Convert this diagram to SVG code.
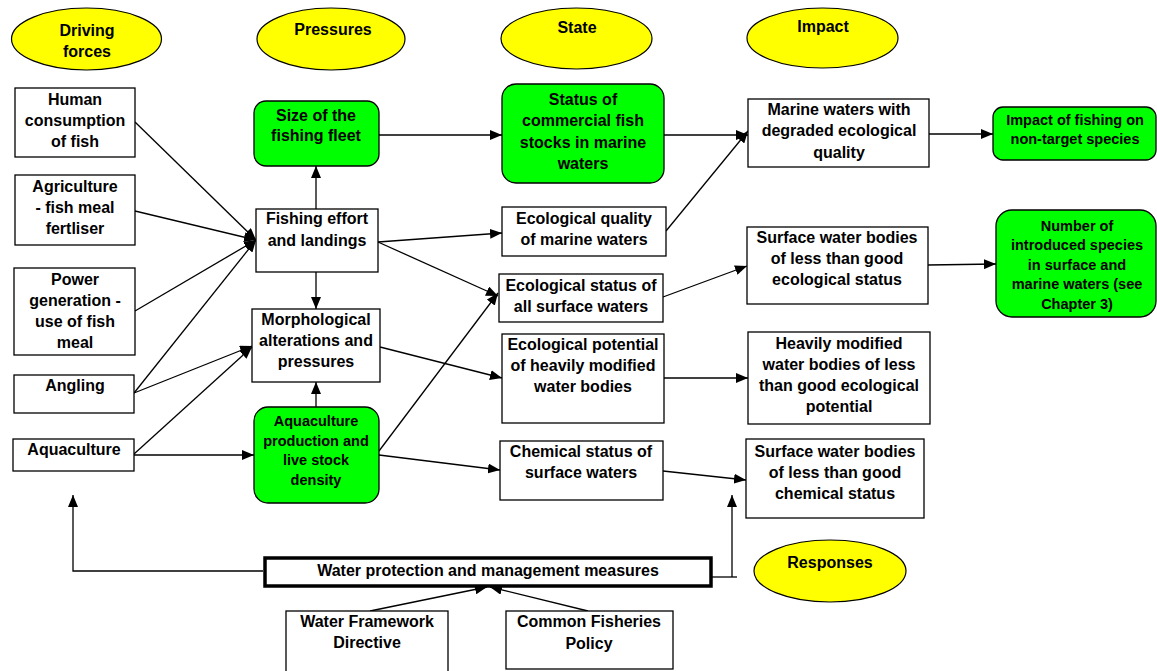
<svg xmlns="http://www.w3.org/2000/svg" width="1157" height="671" viewBox="0 0 1157 671">
<defs>
<style>
.t{font-family:"Liberation Sans",Arial,sans-serif;font-weight:bold;font-size:16px;fill:#000;text-anchor:middle}
.s{font-size:14.5px}
.box{fill:#fff;stroke:#000;stroke-width:1.3}
.green{fill:#00ff00;stroke:#000;stroke-width:1.3}
.ell{fill:#ffff00;stroke:#000;stroke-width:1.2}
.c{fill:none;stroke:#000;stroke-width:1.3}
.thick{fill:#fff;stroke:#000;stroke-width:3.5}
</style>
<marker id="ah" viewBox="0 0 12 10" refX="12" refY="5" markerWidth="12" markerHeight="10" markerUnits="userSpaceOnUse" orient="auto">
<path d="M0,0 L12,5 L0,10 z" fill="#000"/>
</marker>
</defs>
<rect width="1157" height="671" fill="#fff"/>

<g id="connectors">
<path class="c" marker-end="url(#ah)" d="M135,122 L256,240"/>
<path class="c" marker-end="url(#ah)" d="M135,211 L256,240"/>
<path class="c" marker-end="url(#ah)" d="M135,311 L256,240"/>
<path class="c" marker-end="url(#ah)" d="M134,393 L256,240"/>
<path class="c" marker-end="url(#ah)" d="M134,393 L252,346"/>
<path class="c" marker-end="url(#ah)" d="M134,454 L252,347"/>
<path class="c" marker-end="url(#ah)" d="M134,455 L254,455"/>
<path class="c" marker-end="url(#ah)" d="M316,209 L316,166"/>
<path class="c" marker-end="url(#ah)" d="M316,272 L316,309"/>
<path class="c" marker-end="url(#ah)" d="M316,407 L316,382"/>
<path class="c" marker-end="url(#ah)" d="M379,135 L502,135"/>
<path class="c" marker-end="url(#ah)" d="M378,242 L502,233"/>
<path class="c" marker-end="url(#ah)" d="M378,242 L498,296"/>
<path class="c" marker-end="url(#ah)" d="M380,347 L502,378"/>
<path class="c" marker-end="url(#ah)" d="M379,451 L498,293"/>
<path class="c" marker-end="url(#ah)" d="M379,455 L500,470"/>
<path class="c" marker-end="url(#ah)" d="M664,135 L748,135"/>
<path class="c" marker-end="url(#ah)" d="M666,231 L748,131"/>
<path class="c" marker-end="url(#ah)" d="M663,297 L747,266"/>
<path class="c" marker-end="url(#ah)" d="M664,378 L748,378"/>
<path class="c" marker-end="url(#ah)" d="M663,471 L746,480"/>
<path class="c" marker-end="url(#ah)" d="M929,134 L993,134"/>
<path class="c" marker-end="url(#ah)" d="M928,265 L996,264"/>
<path class="c" marker-end="url(#ah)" d="M263,571 L73,571 L73,495"/>
<path class="c" d="M712,577 L737,577"/>
<path class="c" marker-end="url(#ah)" d="M732,577 L732,495"/>
<path class="c" marker-end="url(#ah)" d="M370,611 L487,587"/>
<path class="c" marker-end="url(#ah)" d="M588,611 L490,587"/>
</g>

<g id="driving-forces-label">
<ellipse class="ell" cx="86.5" cy="39" rx="75" ry="31"/>
<text class="t" x="87" y="36">Driving</text>
<text class="t" x="87" y="57">forces</text>
</g>
<g id="pressures-label">
<ellipse class="ell" cx="331" cy="39" rx="74" ry="31"/>
<text class="t" x="333" y="35">Pressures</text>
</g>
<g id="state-label">
<ellipse class="ell" cx="576.5" cy="38.5" rx="75.5" ry="30.5"/>
<text class="t" x="577" y="33">State</text>
</g>
<g id="impact-label">
<ellipse class="ell" cx="822.5" cy="38" rx="75.5" ry="30"/>
<text class="t" x="823" y="32">Impact</text>
</g>
<g id="responses-label">
<ellipse class="ell" cx="830" cy="571" rx="76" ry="31"/>
<text class="t" x="830" y="568">Responses</text>
</g>

<g id="human-consumption">
<rect class="box" x="15" y="88" width="120" height="69"/>
<text class="t" x="75" y="105">Human</text>
<text class="t" x="75" y="126">consumption</text>
<text class="t" x="75" y="147">of fish</text>
</g>
<g id="agriculture">
<rect class="box" x="15" y="175" width="120" height="70"/>
<text class="t" x="75" y="192">Agriculture</text>
<text class="t" x="75" y="213">- fish meal</text>
<text class="t" x="75" y="234">fertliser</text>
</g>
<g id="power-generation">
<rect class="box" x="14" y="268" width="121" height="87"/>
<text class="t" x="75" y="285">Power</text>
<text class="t" x="75" y="306">generation -</text>
<text class="t" x="75" y="327">use of fish</text>
<text class="t" x="75" y="348">meal</text>
</g>
<g id="angling">
<rect class="box" x="14" y="375" width="120" height="38"/>
<text class="t" x="75" y="391">Angling</text>
</g>
<g id="aquaculture">
<rect class="box" x="13" y="439" width="121" height="32"/>
<text class="t" x="74" y="455">Aquaculture</text>
</g>

<g id="fleet-size">
<rect class="green" x="254" y="101" width="125" height="65" rx="12"/>
<text class="t" x="316" y="121">Size of the</text>
<text class="t" x="316" y="141">fishing fleet</text>
</g>
<g id="fishing-effort">
<rect class="box" x="256" y="209" width="122" height="63"/>
<text class="t" x="317" y="224">Fishing effort</text>
<text class="t" x="317" y="246">and landings</text>
</g>
<g id="morphological">
<rect class="box" x="252" y="309" width="128" height="73"/>
<text class="t" x="316" y="325">Morphological</text>
<text class="t" x="316" y="346">alterations and</text>
<text class="t" x="316" y="367">pressures</text>
</g>
<g id="aquaculture-production">
<rect class="green" x="254" y="407" width="125" height="96" rx="14"/>
<text class="t s" x="316" y="426">Aquaculture</text>
<text class="t s" x="316" y="446">production and</text>
<text class="t s" x="316" y="465">live stock</text>
<text class="t s" x="316" y="485">density</text>
</g>

<g id="commercial-fish-stocks">
<rect class="green" x="502" y="84" width="162" height="99" rx="14"/>
<text class="t" x="583" y="105">Status of</text>
<text class="t" x="583" y="126">commercial fish</text>
<text class="t" x="583" y="148">stocks in marine</text>
<text class="t" x="583" y="169">waters</text>
</g>
<g id="ecological-quality">
<rect class="box" x="502" y="207" width="164" height="49"/>
<text class="t" x="584" y="224">Ecological quality</text>
<text class="t" x="584" y="245">of marine waters</text>
</g>
<g id="ecological-status">
<rect class="box" x="499" y="274" width="164" height="48"/>
<text class="t" x="581" y="291">Ecological status of</text>
<text class="t" x="581" y="312">all surface waters</text>
</g>
<g id="ecological-potential">
<rect class="box" x="502" y="334" width="162" height="89"/>
<text class="t" x="583" y="350">Ecological potential</text>
<text class="t" x="583" y="371">of heavily modified</text>
<text class="t" x="583" y="392">water bodies</text>
</g>
<g id="chemical-status">
<rect class="box" x="500" y="441" width="163" height="59"/>
<text class="t" x="581" y="457">Chemical status of</text>
<text class="t" x="581" y="478">surface waters</text>
</g>

<g id="marine-degraded">
<rect class="box" x="748" y="99" width="181" height="68"/>
<text class="t" x="839" y="115">Marine waters with</text>
<text class="t" x="839" y="136">degraded ecological</text>
<text class="t" x="839" y="158">quality</text>
</g>
<g id="surface-ecological">
<rect class="box" x="747" y="227" width="181" height="77"/>
<text class="t" x="837" y="243">Surface water bodies</text>
<text class="t" x="837" y="264">of less than good</text>
<text class="t" x="837" y="285">ecological status</text>
</g>
<g id="heavily-modified">
<rect class="box" x="748" y="332" width="182" height="92"/>
<text class="t" x="839" y="349">Heavily modified</text>
<text class="t" x="839" y="370">water bodies of less</text>
<text class="t" x="839" y="391">than good ecological</text>
<text class="t" x="839" y="412">potential</text>
</g>
<g id="surface-chemical">
<rect class="box" x="746" y="439" width="178" height="79"/>
<text class="t" x="835" y="457">Surface water bodies</text>
<text class="t" x="835" y="478">of less than good</text>
<text class="t" x="835" y="499">chemical status</text>
</g>

<g id="non-target-impact">
<rect class="green" x="993" y="107" width="163" height="53" rx="10"/>
<text class="t s" x="1075" y="124.5">Impact of fishing on</text>
<text class="t s" x="1075" y="143.5">non-target species</text>
</g>
<g id="introduced-species">
<rect class="green" x="996" y="210" width="160" height="107" rx="16"/>
<text class="t s" x="1077" y="231">Number of</text>
<text class="t s" x="1077" y="250">introduced species</text>
<text class="t s" x="1077" y="270">in surface and</text>
<text class="t s" x="1077" y="289">marine waters (see</text>
<text class="t s" x="1077" y="309">Chapter 3)</text>
</g>

<g id="water-protection">
<rect class="thick" x="265" y="558" width="446" height="28"/>
<text class="t" x="488" y="576">Water protection and management measures</text>
</g>
<g id="wfd">
<rect class="box" x="286" y="611" width="162" height="70"/>
<text class="t" x="367" y="627">Water Framework</text>
<text class="t" x="367" y="648">Directive</text>
</g>
<g id="cfp">
<rect class="box" x="506" y="611" width="167" height="58"/>
<text class="t" x="589" y="627">Common Fisheries</text>
<text class="t" x="589" y="649">Policy</text>
</g>
</svg>
